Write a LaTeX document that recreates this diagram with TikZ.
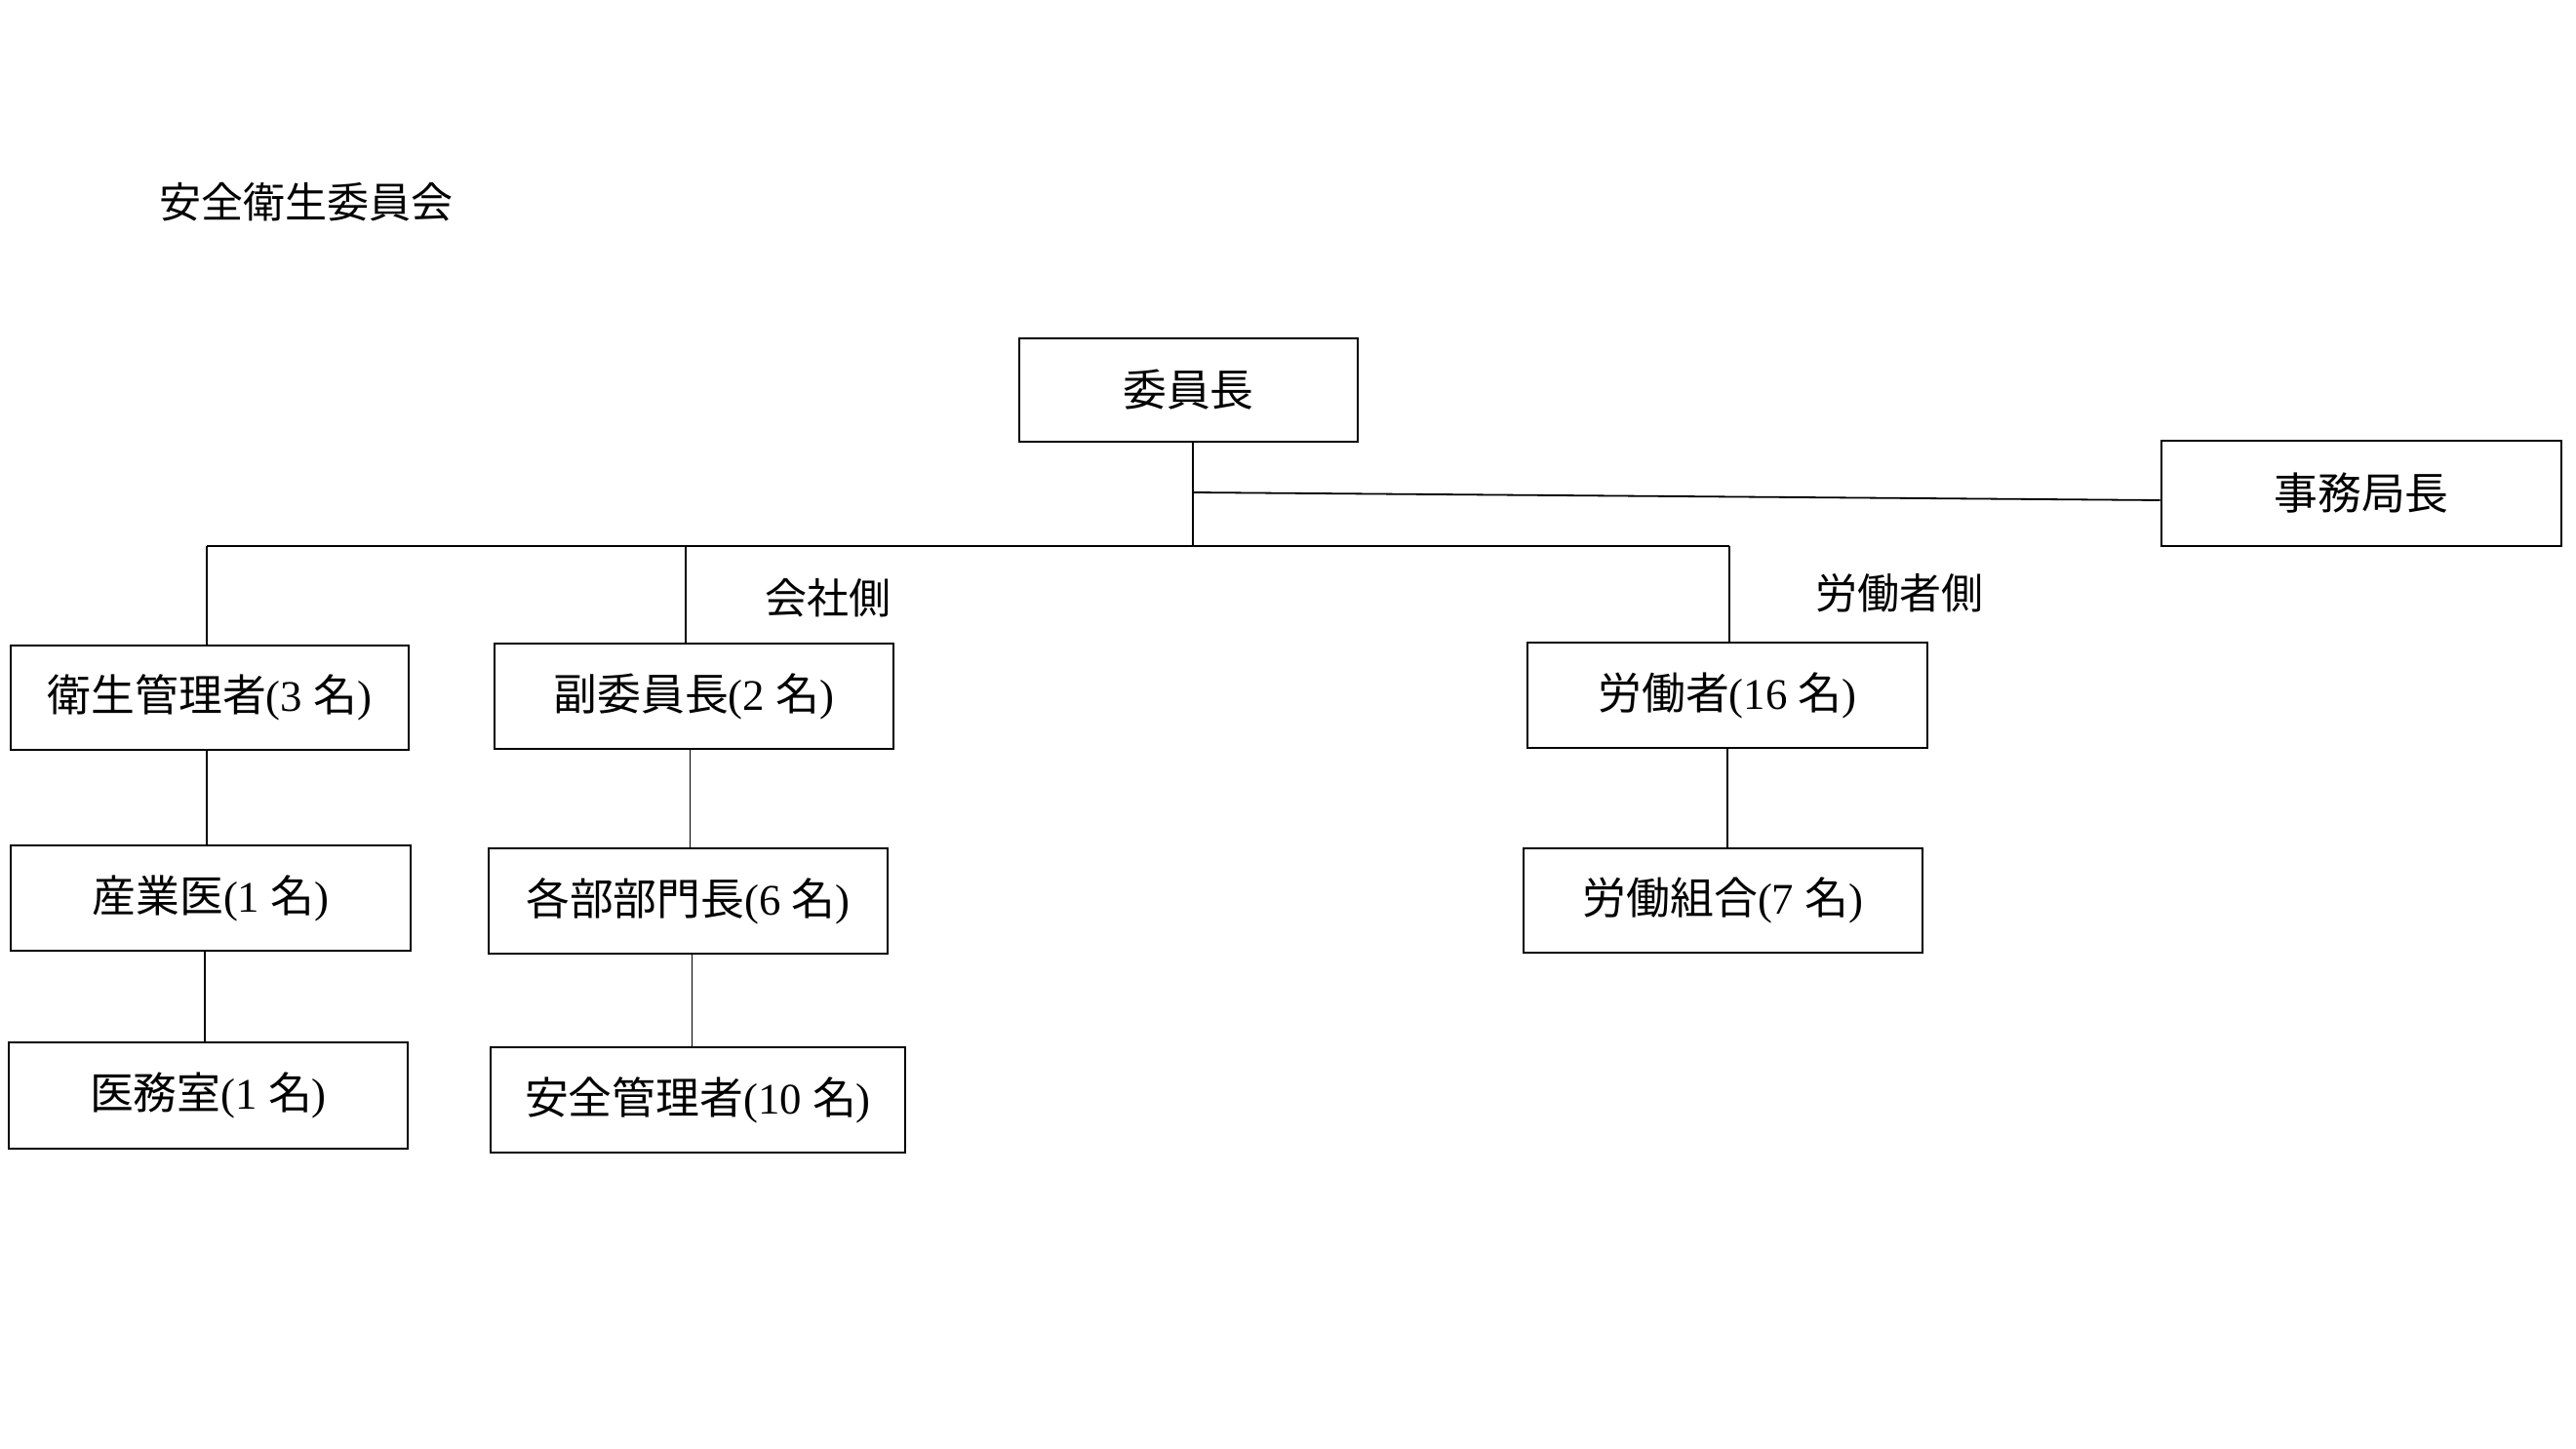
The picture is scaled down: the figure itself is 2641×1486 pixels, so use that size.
\documentclass[tikz,border=0pt]{standalone}
\usepackage{fontspec}
\setmainfont{Liberation Serif}
\newfontfamily\cjkfont{Noto Sans CJK JP}
\newcommand{\cj}[1]{{\cjkfont #1}}
\usetikzlibrary{calc}
\tikzset{
  box/.style={draw, line width=0.65pt, inner sep=0pt, font=\fontsize{11.2pt}{13pt}\selectfont},
  conn/.style={line width=0.45pt},
  lbl/.style={inner sep=0pt, font=\fontsize{10.75pt}{13pt}\selectfont}
}
\begin{document}
\begin{tikzpicture}[x=0.25pt,y=-0.25pt]
\useasboundingbox (0,0) rectangle (2641,1486);
\fill[white] (0,0) rectangle (2641,1486);
% title
\node[lbl, anchor=west] (title) at (163,207) {\cj{安全衛生委員会}};
% boxes
\node[box, minimum width=347*0.25pt, minimum height=106*0.25pt] (iin) at (1218.5,400) {\cj{委員長}};
\node[box, minimum width=410*0.25pt, minimum height=108*0.25pt] (jimu) at (2421,506) {\cj{事務局長}};
\node[box, minimum width=408*0.25pt, minimum height=107*0.25pt] (eisei) at (215,715.5) {\cj{衛生管理者}(3 \cj{名})};
\node[box, minimum width=409*0.25pt, minimum height=108*0.25pt] (fuku) at (711.5,714) {\cj{副委員長}(2 \cj{名})};
\node[box, minimum width=410*0.25pt, minimum height=108*0.25pt] (sangyo) at (216,921) {\cj{産業医}(1 \cj{名})};
\node[box, minimum width=409*0.25pt, minimum height=109*0.25pt] (imu) at (213.5,1123.5) {\cj{医務室}(1 \cj{名})};
\node[box, minimum width=409*0.25pt, minimum height=108*0.25pt] (kaku) at (705.5,924) {\cj{各部部門長}(6 \cj{名})};
\node[box, minimum width=425*0.25pt, minimum height=108*0.25pt] (anzen) at (715.5,1128) {\cj{安全管理者}(10 \cj{名})};
\node[box, minimum width=410*0.25pt, minimum height=108*0.25pt] (rodo) at (1771,713) {\cj{労働者}(16 \cj{名})};
\node[box, minimum width=409*0.25pt, minimum height=107*0.25pt] (kumiai) at (1766.5,923.5) {\cj{労働組合}(7 \cj{名})};
% side labels
\node[lbl] (kaisha) at (849,613) {\cj{会社側}};
\node[lbl] (rodosha) at (1947,608) {\cj{労働者側}};
% bus coordinates
\coordinate (top) at (1223,453);
\coordinate (jj) at (1223,505);
\coordinate (bm) at (1223,560);
\coordinate (b1) at (212,560);
\coordinate (b2) at (703,560);
\coordinate (b3) at (1773,560);
% connectors
\draw[conn] (top) -- (bm);
\draw[conn] (jj) -- ($(jimu.west)+(0,7)$);
\draw[conn] (b1) -- (b3);
\draw[conn] (b1) -- (b1 |- eisei.north);
\draw[conn] (b2) -- (b2 |- fuku.north);
\draw[conn] (b3) -- (b3 |- rodo.north);
\draw[conn] ([xshift=-0.75pt]eisei.south) -- ([xshift=-0.75pt]eisei.south |- sangyo.north);
\draw[conn] ([xshift=-1.5pt]sangyo.south) -- ([xshift=-1.5pt]sangyo.south |- imu.north);
\draw[conn] ([xshift=-1pt]fuku.south) -- ([xshift=-1pt]fuku.south |- kaku.north);
\draw[conn] ([xshift=1pt]kaku.south) -- ([xshift=1pt]kaku.south |- anzen.north);
\draw[conn] (rodo.south) -- (rodo.south |- kumiai.north);
\end{tikzpicture}
\end{document}
